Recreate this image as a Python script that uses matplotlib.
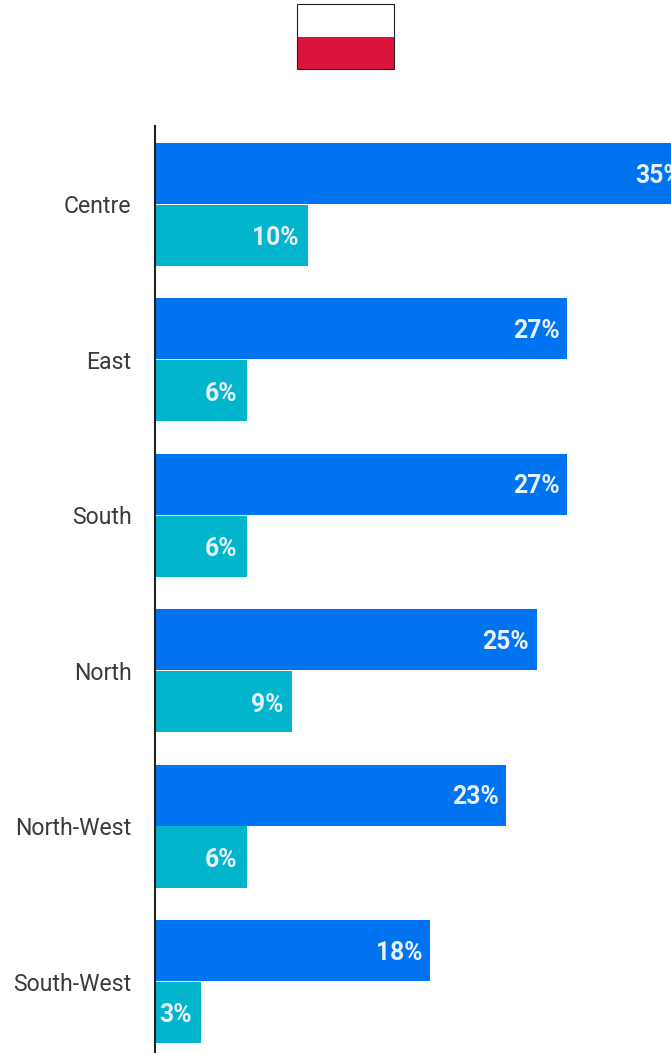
import matplotlib
matplotlib.use("Agg")
import matplotlib.pyplot as plt
from matplotlib.patches import Rectangle

regions = ["Centre", "East", "South", "North", "North-West", "South-West"]
first_vals = [35, 27, 27, 25, 23, 18]
second_vals = [10, 6, 6, 9, 6, 3]

W, H = 671, 1053
plt.rcParams["font.family"] = ["Roboto", "DejaVu Sans"]

fig = plt.figure(figsize=(W / 100, H / 100), dpi=100)
ax = fig.add_axes([155 / W, 0, 1 - 155 / W, 1 - 126 / H])

# one percent is about 15.27 px, the plot is cut off at the right edge
ax.set_xlim(0, 516 / 15.27)
# groups sit 155.4 px apart and the last one runs close to the bottom edge
ax.set_ylim(5.46, -0.505)

bar_h = 0.393
offset = 0.199
label_style = dict(color="#E8F1FB", fontsize=17.8, fontweight="bold", ha="right", va="center",
                   textcoords="offset points", annotation_clip=False)
for i, (a, b) in enumerate(zip(first_vals, second_vals)):
    ax.barh(i - offset, a, height=bar_h, color="#0073F0")
    ax.barh(i + offset, b, height=bar_h, color="#00B5CC")
    # value labels sit inside the bar end, a little under the middle
    ax.annotate(f"{a}%", (a - 0.5, i - offset), xytext=(0, -1.5), clip_on=True, **label_style)
    ax.annotate(f"{b}%", (b - 0.5, i + offset), xytext=(-1, -2.2), **label_style)

ax.set_yticks(range(len(regions)))
ax.set_yticklabels(regions, fontsize=16.6, color="#3a3a3a")
ax.tick_params(axis="y", length=0, pad=17)
ax.set_xticks([])
for side in ["top", "right", "bottom"]:
    ax.spines[side].set_visible(False)
ax.spines["left"].set_color("#222222")
ax.spines["left"].set_linewidth(1.5)

# flag above the chart
fig.add_artist(Rectangle((297 / W, 1 - 37 / H), 97 / W, 33 / H, transform=fig.transFigure,
                         facecolor="white", edgecolor="none"))
fig.add_artist(Rectangle((297 / W, 1 - 69 / H), 97 / W, 32 / H, transform=fig.transFigure,
                         facecolor="#DC143C", edgecolor="none"))
fig.add_artist(Rectangle((297 / W, 1 - 69 / H), 97 / W, 65 / H, transform=fig.transFigure,
                         facecolor="none", edgecolor="#222222", linewidth=0.8))

fig.savefig("out.png", dpi=100)
